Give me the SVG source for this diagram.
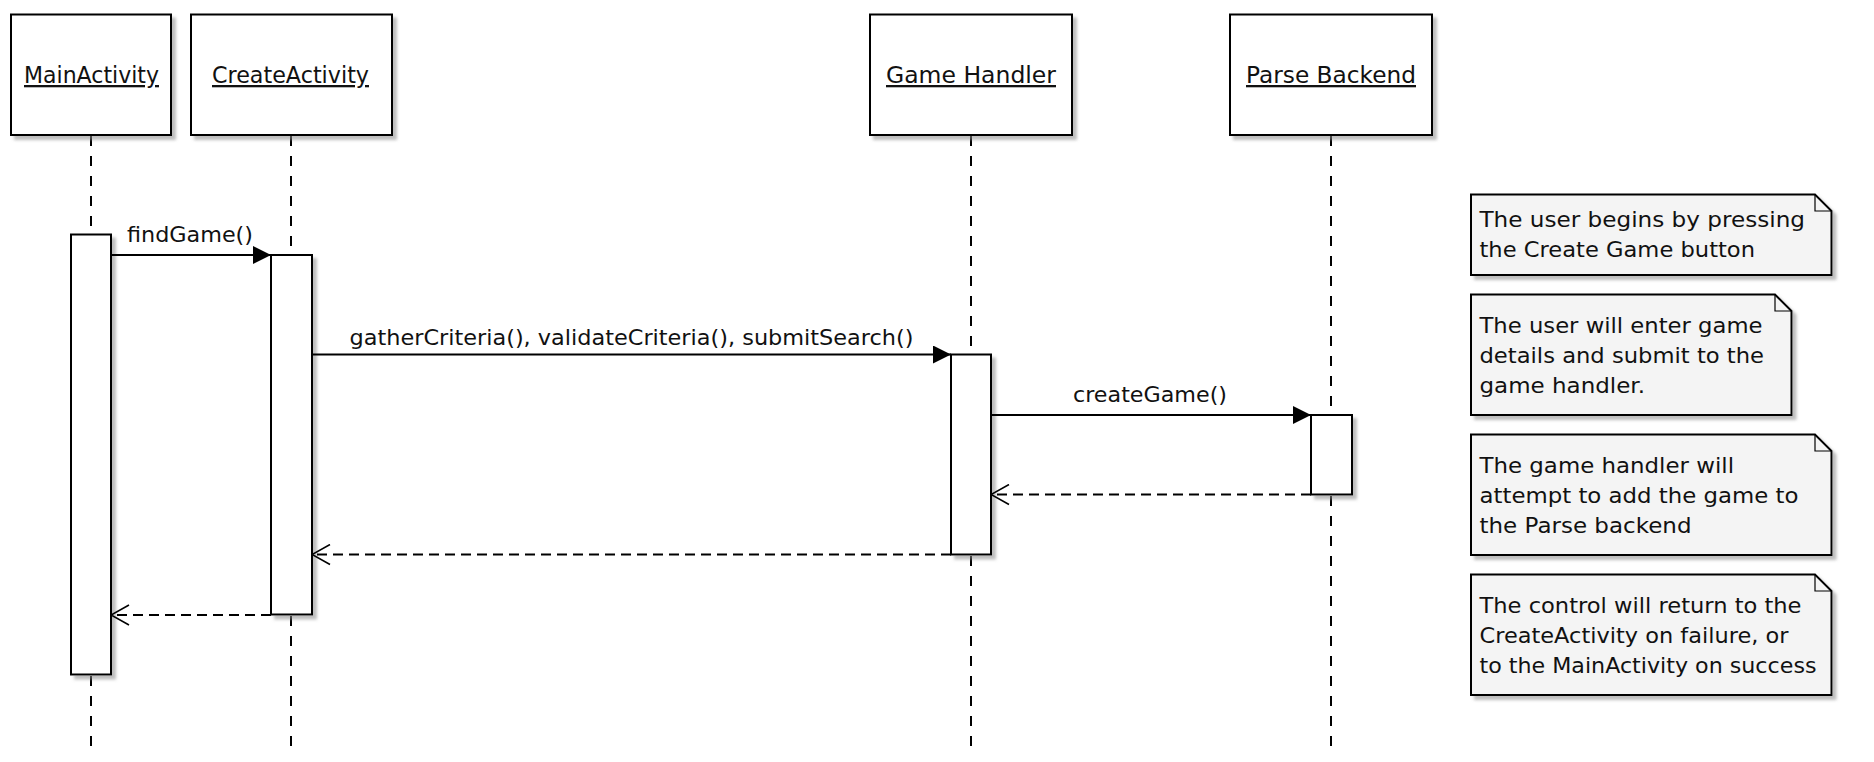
<svg xmlns="http://www.w3.org/2000/svg" width="1874" height="762" viewBox="0 0 1874 762">
<style>
  .box { fill: #ffffff; stroke: #000000; stroke-width: 2; }
  .note { fill: #f4f4f4; stroke: #000000; stroke-width: 2; }
  .fold { fill: none; stroke: #000000; stroke-width: 1.2; }
  .life { stroke: #000000; stroke-width: 2; stroke-dasharray: 10 10; fill: none; }
  .msg { stroke: #000000; stroke-width: 2; fill: none; }
  .ret { stroke: #000000; stroke-width: 2; fill: none; stroke-dasharray: 10 6; }
  .hdr { font-family: "DejaVu Sans", "Liberation Sans", sans-serif; font-size: 23px; fill: #111111; text-decoration: underline; text-anchor: start; }
  .lbl { font-family: "DejaVu Sans", "Liberation Sans", sans-serif; font-size: 22px; fill: #111111; }
  .ntx { font-family: "DejaVu Sans", "Liberation Sans", sans-serif; font-size: 21.5px; fill: #111111; }
</style>
<defs>
  <filter id="sh" x="-10%" y="-10%" width="130%" height="130%">
    <feDropShadow dx="4" dy="4" stdDeviation="1.5" flood-color="#888888" flood-opacity="0.55"/>
  </filter>
  <marker id="filled" markerUnits="userSpaceOnUse" markerWidth="18" markerHeight="18" refX="18" refY="9" orient="auto">
    <path d="M0,0 L18,9 L0,18 z" fill="#000000"/>
  </marker>
  <marker id="open" markerUnits="userSpaceOnUse" markerWidth="20" markerHeight="22" refX="19" refY="11" orient="auto">
    <path d="M1,1 L19,11 L1,21" fill="none" stroke="#000000" stroke-width="1.6"/>
  </marker>
</defs>
<rect width="1874" height="762" fill="#ffffff"/>

<g id="lifelines">
  <line class="life" x1="91" y1="136" x2="91" y2="750"/>
  <line class="life" x1="291" y1="136" x2="291" y2="750"/>
  <line class="life" x1="971" y1="136" x2="971" y2="750"/>
  <line class="life" x1="1331" y1="136" x2="1331" y2="750"/>
</g>

<g id="MainActivity">
  <rect class="box" filter="url(#sh)" x="11" y="14.5" width="160" height="120.5"/>
  <text class="hdr" x="24" y="83" textLength="135" lengthAdjust="spacingAndGlyphs">MainActivity</text>
  <rect class="box" filter="url(#sh)" x="71" y="234.5" width="40" height="440"/>
</g>

<g id="CreateActivity">
  <rect class="box" filter="url(#sh)" x="191" y="14.5" width="201" height="120.5"/>
  <text class="hdr" x="212" y="83" textLength="157" lengthAdjust="spacingAndGlyphs">CreateActivity</text>
  <rect class="box" filter="url(#sh)" x="271" y="255" width="41" height="359.5"/>
</g>

<g id="GameHandler">
  <rect class="box" filter="url(#sh)" x="870" y="14.5" width="202" height="120.5"/>
  <text class="hdr" x="886" y="83" textLength="170" lengthAdjust="spacingAndGlyphs">Game Handler</text>
  <rect class="box" filter="url(#sh)" x="951" y="354.5" width="40" height="200"/>
</g>

<g id="ParseBackend">
  <rect class="box" filter="url(#sh)" x="1230" y="14.5" width="202" height="120.5"/>
  <text class="hdr" x="1246" y="83" textLength="170" lengthAdjust="spacingAndGlyphs">Parse Backend</text>
  <rect class="box" filter="url(#sh)" x="1311" y="415" width="41" height="79.5"/>
</g>

<g id="connectors">
  <line class="msg" x1="111" y1="255" x2="271" y2="255" marker-end="url(#filled)"/>
  <text class="lbl" x="127" y="241.5" textLength="126" lengthAdjust="spacingAndGlyphs">findGame()</text>

  <line class="msg" x1="312" y1="354.5" x2="951" y2="354.5" marker-end="url(#filled)"/>
  <text class="lbl" x="349.5" y="345" textLength="564" lengthAdjust="spacingAndGlyphs">gatherCriteria(), validateCriteria(), submitSearch()</text>

  <line class="msg" x1="991" y1="415" x2="1311" y2="415" marker-end="url(#filled)"/>
  <text class="lbl" x="1073" y="401.5" textLength="154" lengthAdjust="spacingAndGlyphs">createGame()</text>

  <line class="ret" x1="1311" y1="494.5" x2="991" y2="494.5" marker-end="url(#open)"/>
  <line class="ret" x1="951" y1="554.5" x2="312" y2="554.5" marker-end="url(#open)"/>
  <line class="ret" x1="271" y1="615" x2="111" y2="615" marker-end="url(#open)"/>
</g>

<g id="note1">
  <path class="note" filter="url(#sh)" d="M1471,194.5 L1815,194.5 L1831.5,211 L1831.5,275 L1471,275 Z"/>
  <path class="fold" d="M1815,194.5 L1815,211 L1831.5,211"/>
  <text class="ntx" x="1479.5" y="226.5" textLength="325.5" lengthAdjust="spacingAndGlyphs">The user begins by pressing</text>
  <text class="ntx" x="1479.5" y="257" textLength="275.5" lengthAdjust="spacingAndGlyphs">the Create Game button</text>
</g>

<g id="note2">
  <path class="note" filter="url(#sh)" d="M1471,294.5 L1775,294.5 L1791.5,311 L1791.5,415 L1471,415 Z"/>
  <path class="fold" d="M1775,294.5 L1775,311 L1791.5,311"/>
  <text class="ntx" x="1479.5" y="333" textLength="283" lengthAdjust="spacingAndGlyphs">The user will enter game</text>
  <text class="ntx" x="1479.5" y="363" textLength="284.5" lengthAdjust="spacingAndGlyphs">details and submit to the</text>
  <text class="ntx" x="1479.5" y="393" textLength="165.5" lengthAdjust="spacingAndGlyphs">game handler.</text>
</g>

<g id="note3">
  <path class="note" filter="url(#sh)" d="M1471,434.5 L1815,434.5 L1831.5,451 L1831.5,555 L1471,555 Z"/>
  <path class="fold" d="M1815,434.5 L1815,451 L1831.5,451"/>
  <text class="ntx" x="1479.5" y="473" textLength="254.5" lengthAdjust="spacingAndGlyphs">The game handler will</text>
  <text class="ntx" x="1479.5" y="503" textLength="319" lengthAdjust="spacingAndGlyphs">attempt to add the game to</text>
  <text class="ntx" x="1479.5" y="533" textLength="212" lengthAdjust="spacingAndGlyphs">the Parse backend</text>
</g>

<g id="note4">
  <path class="note" filter="url(#sh)" d="M1471,574.5 L1815,574.5 L1831.5,591 L1831.5,695 L1471,695 Z"/>
  <path class="fold" d="M1815,574.5 L1815,591 L1831.5,591"/>
  <text class="ntx" x="1479.5" y="613" textLength="322" lengthAdjust="spacingAndGlyphs">The control will return to the</text>
  <text class="ntx" x="1479.5" y="643" textLength="309" lengthAdjust="spacingAndGlyphs">CreateActivity on failure, or</text>
  <text class="ntx" x="1479.5" y="673" textLength="337" lengthAdjust="spacingAndGlyphs">to the MainActivity on success</text>
</g>
</svg>
